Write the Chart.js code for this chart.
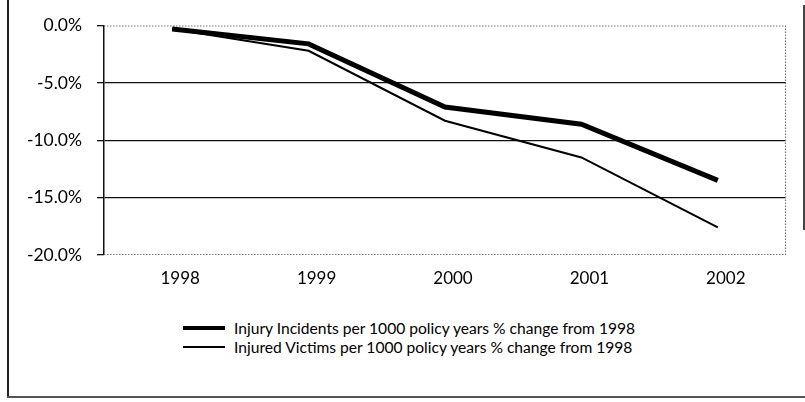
<!DOCTYPE html>
<html>
<head>
<meta charset="utf-8">
<script src="https://cdn.jsdelivr.net/npm/chart.js@4.4.1/dist/chart.umd.min.js"></script>
<style>
  html, body { margin:0; padding:0; background:#fff; }
  body { width:805px; height:402px; position:relative; overflow:hidden; font-family: Lato, "Open Sans", sans-serif; }
  #wrap { position:absolute; left:0; top:0; width:805px; height:300px; }
  .frame { position:absolute; background:#222; }
  #legend { position:absolute; left:183px; top:319px; font-size:15.6px; color:#000; }
  .item { display:flex; align-items:center; height:18.5px; }
  .swatch { width:42px; background:#000; margin-right:9px; }
</style>
</head>
<body>
<div class="frame" style="left:7px;top:0;width:1.5px;height:397px;"></div>
<div class="frame" style="left:7px;top:396px;width:798px;height:1.5px;background:#555;"></div>
<div class="frame" style="left:803px;top:5px;width:1.5px;height:225px;background:#444;"></div>
<div id="wrap"><canvas id="c" width="805" height="300"></canvas></div>
<div id="legend"></div>
<script>
const categories = ["1998", "1999", "2000", "2001", "2002"];
const seriesNames = [
  "Injury Incidents per 1000 policy years % change from 1998",
  "Injured Victims per 1000 policy years % change from 1998"
];
const incidents = [-0.3, -1.6, -7.1, -8.6, -13.5];
const victims   = [-0.3, -2.2, -8.3, -11.5, -17.6];
const yTickValues = [0, -5, -10, -15, -20];
const yTickLabels = ["0.0%", "-5.0%", "-10.0%", "-15.0%", "-20.0%"];
const lineWidths = [5, 2];

const frameBox = {
  id: 'frameBox',
  beforeDatasetsDraw(chart) {
    const a = chart.chartArea, ctx = chart.ctx;
    ctx.save();
    ctx.strokeStyle = '#777';
    ctx.lineWidth = 1.2;
    ctx.setLineDash([1.5, 1.5]);
    ctx.beginPath();
    ctx.moveTo(a.left, a.top + 0.5);
    ctx.lineTo(a.right - 0.5, a.top + 0.5);
    ctx.lineTo(a.right - 0.5, a.bottom - 0.5);
    ctx.lineTo(a.left, a.bottom - 0.5);
    ctx.stroke();
    ctx.restore();
  }
};

const chart = new Chart(document.getElementById('c'), {
  type: 'line',
  data: {
    labels: categories,
    datasets: [
      { label: seriesNames[0], data: incidents, borderColor: '#000', borderWidth: lineWidths[0], pointRadius: 0, tension: 0, fill: false, borderCapStyle: 'butt' },
      { label: seriesNames[1], data: victims, borderColor: '#000', borderWidth: lineWidths[1], pointRadius: 0, tension: 0, fill: false }
    ]
  },
  options: {
    responsive: false,
    animation: false,
    layout: { padding: { top: 23, right: 19, left: 0, bottom: 0 } },
    plugins: { legend: { display: false }, tooltip: { enabled: false } },
    scales: {
      x: {
        offset: true,
        grid: { display: false, drawTicks: false },
        border: { display: false },
        ticks: { color: '#000', font: { family: 'Lato', size: 17 }, padding: 13, labelOffset: 8, maxRotation: 0 },
        afterFit(s) { s.height = 45; }
      },
      y: {
        min: -20, max: 0,
        afterBuildTicks(s) { s.ticks = yTickValues.map(v => ({ value: v })); },
        ticks: {
          color: '#000', font: { family: 'Lato', size: 17.5 }, padding: 15,
          callback: (v) => yTickLabels[yTickValues.indexOf(v)]
        },
        grid: {
          color: (ctx) => (ctx.tick && (ctx.tick.value === 0 || ctx.tick.value === -20)) ? 'rgba(0,0,0,0)' : '#111',
          lineWidth: 1.3,
          tickColor: '#111',
          tickLength: 7,
          tickWidth: 1.3
        },
        border: { display: true, color: '#111', width: 1.5 },
        afterFit(s) { s.width = 104; }
      }
    }
  },
  plugins: [frameBox]
});

const legend = document.getElementById('legend');
chart.data.datasets.forEach((ds, i) => {
  const row = document.createElement('div');
  row.className = 'item';
  const sw = document.createElement('div');
  sw.className = 'swatch';
  sw.style.height = (i === 0 ? 4 : ds.borderWidth) + 'px';
  const tx = document.createElement('span');
  tx.textContent = ds.label;
  row.appendChild(sw); row.appendChild(tx);
  legend.appendChild(row);
});
</script>
</body>
</html>
